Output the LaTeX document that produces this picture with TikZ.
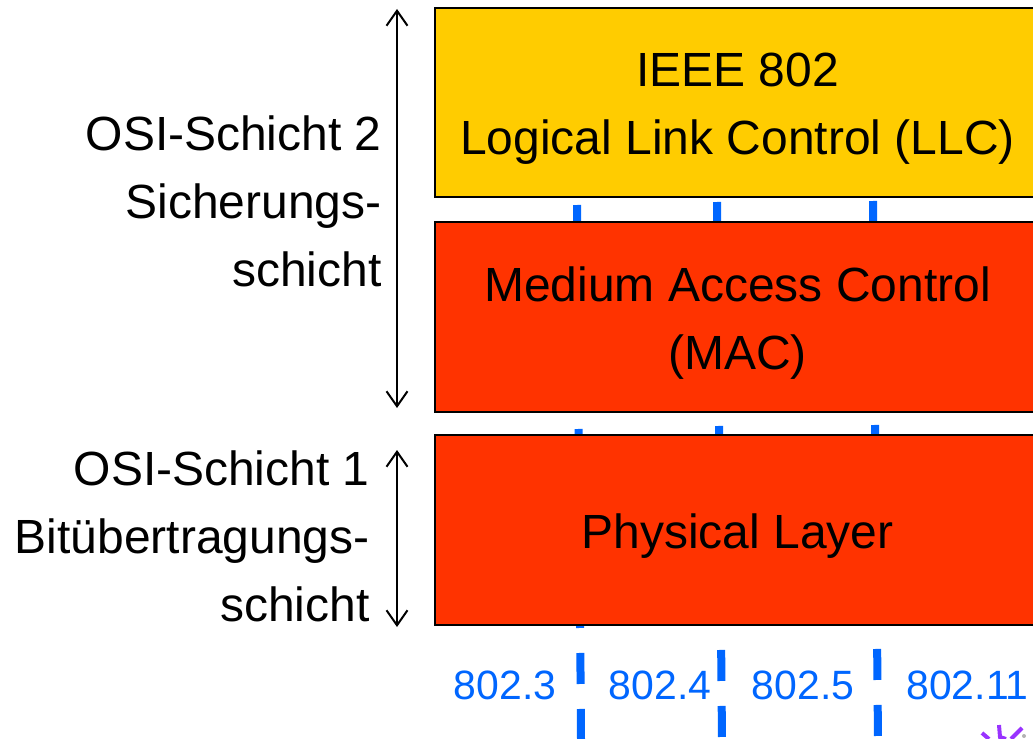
\documentclass[tikz,border=0pt]{standalone}
\usepackage{fontspec}
\setmainfont{Liberation Sans}
\usetikzlibrary{arrows.meta,positioning}
\definecolor{llcyellow}{HTML}{FFCC00}
\definecolor{macred}{HTML}{FF3300}
\definecolor{stdblue}{HTML}{0066FF}
\definecolor{clippurple}{HTML}{9933FF}

\begin{document}
\begin{tikzpicture}[
  layerbox/.style={rectangle, draw=black, line width=0.05cm, outer sep=0pt, minimum width=12.1cm, minimum height=3.8cm},
  boxtext/.style={align=center, inner sep=0pt, font=\fontsize{27.3}{38.7}\selectfont},
  osilabel/.style={anchor=east, align=right, inner sep=0pt, font=\fontsize{27.3}{38.7}\selectfont},
  stdlabel/.style={text=stdblue, inner sep=0pt, font=\fontsize{23.3}{28}\selectfont},
  sepline/.style={draw=stdblue, line width=0.16cm, dash pattern=on 0.62cm off 0.5cm},
  spanarrow/.style={draw=black, line width=0.04cm, {Straight Barb[length=0.3cm,width=0.42cm]}-{Straight Barb[length=0.3cm,width=0.42cm]}}
]
  \useasboundingbox (0,0) rectangle (20.66,-14.78);

  \coordinate (sep1top) at (11.54,-4.10);
  \coordinate (sep1bot) at (11.62,-14.78);
  \coordinate (sep2top) at (14.34,-4.04);
  \coordinate (sep2bot) at (14.44,-14.78);
  \coordinate (sep3top) at (17.46,-4.02);
  \coordinate (sep3bot) at (17.56,-14.78);
  \draw[sepline] (sep1top) -- (sep1bot);
  \draw[sepline] (sep2top) -- (sep2bot);
  \draw[sepline] (sep3top) -- (sep3bot);

  \node[layerbox, fill=llcyellow, minimum height=3.78cm, anchor=north west] (llc) at (8.7,-0.16) {};
  \node[layerbox, fill=macred, below=0.5cm of llc] (mac) {};
  \node[layerbox, fill=macred, below=0.46cm of mac] (phy) {};
  \node[boxtext] (llctext) at ([yshift=-0.12cm]llc.center) {IEEE 802\\Logical Link Control (LLC)};
  \node[boxtext] (mactext) at ([yshift=-0.13cm]mac.center) {Medium Access Control\\(MAC)};
  \node[boxtext] (phytext) at ([yshift=-0.13cm]phy.center) {Physical Layer};

  \node[osilabel] (layer2) at (7.64,-4.02) {OSI-Schicht 2\\Sicherungs-\\schicht};
  \node[osilabel] (layer1) at (7.40,-10.72) {OSI-Schicht 1\\Bitübertragungs-\\schicht};

  \coordinate (l2top) at (7.94,-0.18);
  \coordinate (l2bot) at (7.94,-8.16);
  \coordinate (l1top) at (7.94,-9.00);
  \coordinate (l1bot) at (7.94,-12.54);
  \draw[spanarrow] (l2top) -- (l2bot);
  \draw[spanarrow] (l1top) -- (l1bot);

  \node[stdlabel] (std3) at (10.10,-13.70) {802.3};
  \node[stdlabel] (std4) at (13.20,-13.70) {802.4};
  \node[stdlabel] (std5) at (16.06,-13.70) {802.5};
  \node[stdlabel] (std11) at (19.35,-13.70) {802.11};

  \draw[clippurple, line width=0.08cm] (19.64,-14.66) -- (19.78,-14.78);
  \draw[clippurple, line width=0.08cm] (19.98,-14.50) -- (20.00,-14.74) -- (20.12,-14.78);
  \draw[clippurple, line width=0.08cm] (20.44,-14.56) -- (20.22,-14.78);
  \fill[gray!60] (20.48,-14.72) circle (0.04cm);
\end{tikzpicture}
\end{document}
